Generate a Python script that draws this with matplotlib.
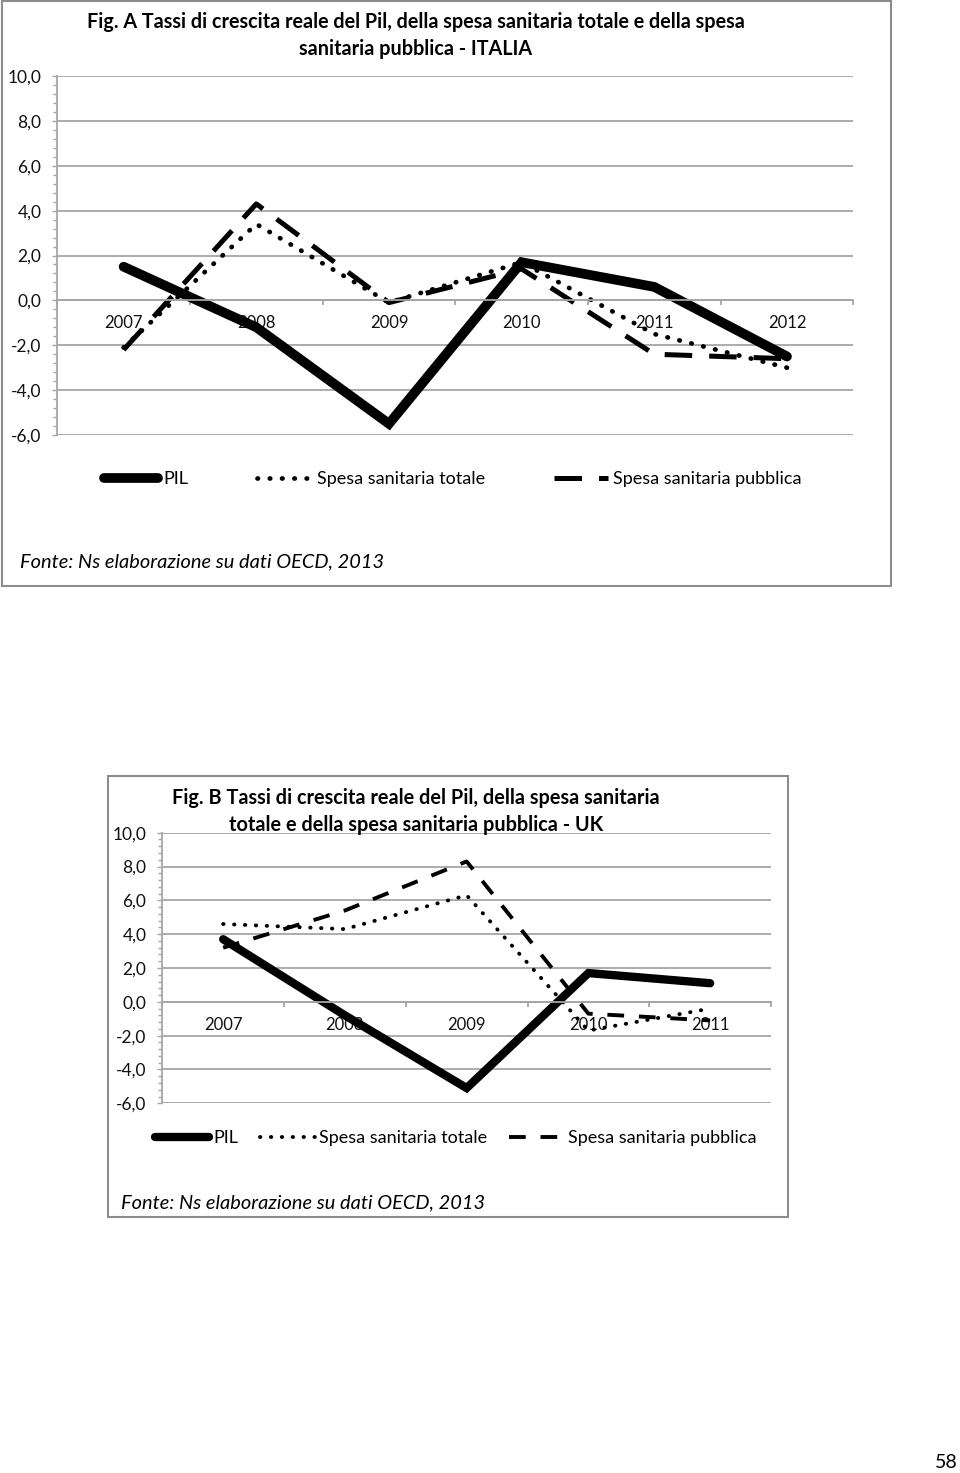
import numpy as np
import matplotlib
matplotlib.use('Agg')
import matplotlib.pyplot as plt
from matplotlib.patches import Rectangle
from matplotlib.ticker import MultipleLocator, FixedLocator, FuncFormatter, NullFormatter

plt.rcParams['font.family'] = ['Lato', 'DejaVu Sans']

# ---------------- data ----------------
years_it = ['2007', '2008', '2009', '2010', '2011', '2012']
pil_it = [1.5, -1.2, -5.5, 1.7, 0.6, -2.5]
tot_it = [-2.1, 3.4, -0.1, 1.7, -1.5, -3.0]
pub_it = [-2.2, 4.3, -0.1, 1.4, -2.4, -2.6]

years_uk = ['2007', '2008', '2009', '2010', '2011']
pil_uk = [3.7, -0.8, -5.1, 1.7, 1.1]
tot_uk = [4.6, 4.3, 6.3, -1.7, -0.4]
pub_uk = [3.2, 5.4, 8.3, -0.7, -1.1]

series_labels = ['PIL', 'Spesa sanitaria totale', 'Spesa sanitaria pubblica']
title_it = ['Fig. A Tassi di crescita reale del Pil, della spesa sanitaria totale e della spesa',
            'sanitaria pubblica - ITALIA']
title_uk = ['Fig. B Tassi di crescita reale del Pil, della spesa sanitaria',
            'totale e della spesa sanitaria pubblica - UK']
fonte = 'Fonte: Ns elaborazione su dati OECD, 2013'
page_no = '58'

W, H = 960, 1473
fig = plt.figure(figsize=(W / 100, H / 100), dpi=100)
PX = 0.72  # points per pixel


def fx(px):
    return px / W


def fy(py):
    return 1 - py / H


GRID = '#a6a6a6'
BORDER = '#8c8c8c'
TXT = '#111111'


def make_axes(l, t, r, b, cats, ylab_pad, xlab_pad):
    ax = fig.add_axes([fx(l), fy(b), (r - l) / W, (b - t) / H])
    n = len(cats)
    ax.set_xlim(-0.5, n - 0.5)
    ax.set_ylim(-6, 10)
    ax.yaxis.set_major_locator(MultipleLocator(2))
    ax.yaxis.set_minor_locator(MultipleLocator(0.4))
    ax.yaxis.set_major_formatter(FuncFormatter(lambda v, p: f'{v:.1f}'.replace('.', ',')))
    ax.grid(axis='y', which='major', color=GRID, lw=1.3)
    ax.set_axisbelow(True)
    for s in ['top', 'right']:
        ax.spines[s].set_visible(False)
    ax.spines['bottom'].set_position(('data', 0))
    ax.spines['bottom'].set_color(GRID)
    ax.spines['bottom'].set_linewidth(1.3)
    ax.spines['left'].set_color(GRID)
    ax.spines['left'].set_linewidth(1.3)
    ax.xaxis.set_major_locator(FixedLocator(np.arange(-0.5, n, 1.0)))
    ax.xaxis.set_major_formatter(NullFormatter())
    ax.xaxis.set_minor_locator(FixedLocator(np.arange(n)))
    ax.set_xticklabels(cats, minor=True)
    ax.tick_params(axis='x', which='major', length=5 * PX, width=1.3, color=GRID, direction='out')
    ax.tick_params(axis='x', which='minor', length=0, pad=xlab_pad, labelsize=12, labelcolor=TXT)
    ax.tick_params(axis='y', which='major', length=5 * PX, width=1.0, color=GRID, pad=ylab_pad,
                   labelsize=12.5, labelcolor=TXT)
    ax.tick_params(axis='y', which='minor', length=4 * PX, width=1.0, color=GRID)
    ax.patch.set_alpha(0)
    return ax


def draw_series(ax, cats, pil, tot, pub, lw_pil, lw_tot, dot_pat, lw_pub, dash_pat):
    x = np.arange(len(cats))
    h1, = ax.plot(x, pil, color='black', lw=lw_pil, solid_capstyle='round',
                  solid_joinstyle='miter', label=series_labels[0], clip_on=False)
    h2, = ax.plot(x, tot, color='black', lw=lw_tot, ls=(0, dot_pat), dash_capstyle='round',
                  label=series_labels[1], clip_on=False)
    h3, = ax.plot(x, pub, color='black', lw=lw_pub, ls=(0, dash_pat), dash_capstyle='butt',
                  label=series_labels[2], clip_on=False)
    return [h1, h2, h3]


# ---------------- boxes ----------------
fig.patches.append(Rectangle((fx(2), fy(586)), (891 - 2) / W, (586 - 1) / H, transform=fig.transFigure,
                             fill=False, edgecolor=BORDER, lw=1.5))
fig.patches.append(Rectangle((fx(108), fy(1217)), (788 - 108) / W, (1217 - 776) / H,
                             transform=fig.transFigure, fill=False, edgecolor=BORDER, lw=1.5))

# ---------------- Fig A ----------------
axA = make_axes(57.3, 76, 853.3, 435, years_it, ylab_pad=11 * PX, xlab_pad=15 * PX)
hA = draw_series(axA, years_it, pil_it, tot_it, pub_it,
                 lw_pil=7.0, lw_tot=3.4, dot_pat=(0.1, 2.5), lw_pub=3.6, dash_pat=(5.5, 3.4))
fig.text(fx(416), fy(22), title_it[0], ha='center', va='center', fontsize=14.2, fontweight='bold')
fig.text(fx(416), fy(49), title_it[1], ha='center', va='center', fontsize=14.2, fontweight='bold')
fig.legend(hA, series_labels, loc='center left', bbox_to_anchor=(fx(104), fy(479)), ncol=3,
           frameon=False, fontsize=13, handlelength=3.0, handletextpad=0.3, columnspacing=3.8,
           borderpad=0, borderaxespad=0)
fig.text(fx(20), fy(562), fonte, ha='left', va='center', fontsize=14.4, fontstyle='italic')

# ---------------- Fig B ----------------
axB = make_axes(162.3, 832.7, 771, 1103.3, years_uk, ylab_pad=11 * PX, xlab_pad=15 * PX)
hB = draw_series(axB, years_uk, pil_uk, tot_uk, pub_uk,
                 lw_pil=6.0, lw_tot=2.8, dot_pat=(0.1, 2.7), lw_pub=2.8, dash_pat=(4.3, 3.8))
fig.text(fx(416), fy(798), title_uk[0], ha='center', va='center', fontsize=14.3, fontweight='bold')
fig.text(fx(416), fy(825), title_uk[1], ha='center', va='center', fontsize=14.3, fontweight='bold')
fig.legend(hB, series_labels, loc='center left', bbox_to_anchor=(fx(155), fy(1138)), ncol=3,
           frameon=False, fontsize=13, handlelength=3.0, handletextpad=0.25, columnspacing=1.2,
           borderpad=0, borderaxespad=0)
fig.text(fx(121), fy(1203), fonte, ha='left', va='center', fontsize=14.4, fontstyle='italic')

fig.text(fx(958), fy(1463), page_no, ha='right', va='center', fontsize=14)

fig.savefig('out.png', dpi=100)
